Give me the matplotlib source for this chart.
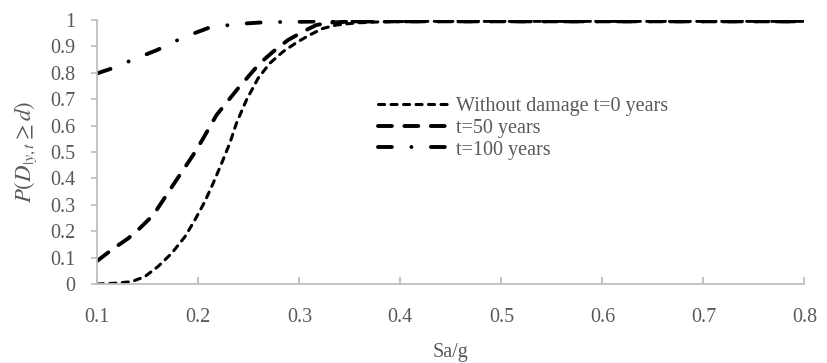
import numpy as np
import matplotlib
matplotlib.use('Agg')
import matplotlib.pyplot as plt

plt.rcParams['font.family'] = ['Liberation Serif', 'DejaVu Serif']
plt.rcParams['mathtext.fontset'] = 'stix'
plt.rcParams['lines.scale_dashes'] = False

# 读图得到的数据
sa_t0 = [0.1, 0.1175, 0.134, 0.147, 0.16, 0.1735, 0.1867, 0.1965, 0.2064, 0.2146,
         0.223, 0.2311, 0.2377, 0.2476, 0.2591, 0.2707, 0.2838, 0.297, 0.31, 0.3233,
         0.3366, 0.356, 0.38, 0.42, 0.5, 0.6, 0.7, 0.8]
p_t0 = [0.0, 0.003, 0.009, 0.028, 0.066, 0.116, 0.179, 0.242, 0.312, 0.381,
        0.457, 0.533, 0.609, 0.697, 0.779, 0.836, 0.88, 0.914, 0.943, 0.968,
        0.981, 0.989, 0.993, 0.995, 0.995, 0.995, 0.995, 0.995]

sa_t50 = [0.1, 0.114, 0.1306, 0.142, 0.1553, 0.1652, 0.175, 0.185, 0.1949, 0.2038,
          0.218, 0.2393, 0.2608, 0.274, 0.2887, 0.3036, 0.3168, 0.33, 0.35, 0.4,
          0.5, 0.6, 0.7, 0.8]
p_t50 = [0.088, 0.129, 0.173, 0.211, 0.261, 0.318, 0.375, 0.432, 0.489, 0.545,
         0.64, 0.741, 0.836, 0.88, 0.924, 0.956, 0.981, 0.99, 0.994, 0.995,
         0.995, 0.995, 0.995, 0.995]

sa_t100 = [0.1, 0.117, 0.134, 0.159, 0.185, 0.2114, 0.2393, 0.2674, 0.2954, 0.33,
           0.4, 0.5, 0.6, 0.7, 0.8]
p_t100 = [0.798, 0.82, 0.848, 0.886, 0.934, 0.972, 0.985, 0.992, 0.993, 0.995,
          0.995, 0.995, 0.995, 0.995, 0.995]

labels = ['Without damage t=0 years', 't=50 years', 't=100 years']
gray = '#595959'

fig = plt.figure(figsize=(8.27, 3.63), dpi=100)
ax = fig.add_axes([0.1177, 0.2176, 0.855, 0.7273])

ax.plot(sa_t0, p_t0, color='black', linewidth=2.2, dashes=(4.4, 4.6),
        dash_capstyle='round', solid_joinstyle='round', label=labels[0])
ax.plot(sa_t50, p_t50, color='black', linewidth=2.8, dashes=(10, 9),
        dash_capstyle='round', label=labels[1])
ax.plot(sa_t100, p_t100, color='black', linewidth=2.8, dashes=(10, 14, 0.1, 14),
        dash_capstyle='round', label=labels[2])

ax.set_xlim(0.1, 0.8)
ax.set_ylim(0, 1)
ax.set_xticks(np.arange(0.1, 0.81, 0.1))
ax.set_xticklabels(['0.1', '0.2', '0.3', '0.4', '0.5', '0.6', '0.7', '0.8'])
ax.set_yticks(np.arange(0, 1.01, 0.1))
ax.set_yticklabels(['0', '0.1', '0.2', '0.3', '0.4', '0.5', '0.6', '0.7', '0.8', '0.9', '1'])

for s in ['top', 'right']:
    ax.spines[s].set_visible(False)
for s in ['left', 'bottom']:
    ax.spines[s].set_color('#bfbfbf')
    ax.spines[s].set_linewidth(1.3)
ax.tick_params(axis='y', direction='out', length=4, width=1.3, color='#bfbfbf',
               labelsize=14.5, labelcolor=gray, pad=12)
ax.tick_params(axis='x', direction='in', length=5, width=1.3, color='#bfbfbf',
               labelsize=14.5, labelcolor=gray, pad=17)

ax.set_xlabel('Sa/g', fontsize=14.5, color=gray, labelpad=12)
ax.set_ylabel(r'$P(D_{|y,t} \geq d)$', fontsize=16.5, color=gray, labelpad=8)

leg = ax.legend(loc='upper left', bbox_to_anchor=(378/827, 1 - 97/363),
                bbox_transform=fig.transFigure, frameon=False, fontsize=14.5,
                handlelength=3.5, handletextpad=0.35, labelspacing=0.13,
                borderpad=0, borderaxespad=0)
for t in leg.get_texts():
    t.set_color(gray)

fig.savefig('out.png', dpi=100)
